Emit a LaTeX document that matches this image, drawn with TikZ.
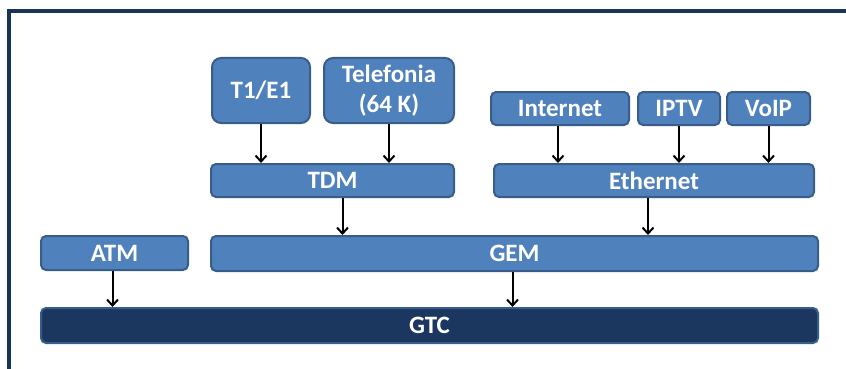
\documentclass[tikz,border=0pt]{standalone}
\usepackage{fontspec}
\setmainfont{Carlito}
\usetikzlibrary{arrows.meta,calc}
\definecolor{boxfill}{HTML}{4F81BD}
\definecolor{boxedge}{HTML}{385D8A}
\definecolor{navy}{HTML}{1B3760}
\definecolor{frameline}{HTML}{1B3456}
\tikzset{
  box/.style={draw=boxedge, line width=2pt, fill=boxfill, rounded corners=5pt,
    text=white, font=\fontsize{25}{30}\selectfont\bfseries, inner sep=0pt,
    anchor=north west, align=center},
  bigbox/.style={box, rounded corners=9pt},
  darkbox/.style={box, fill=navy, draw=boxedge},
  arr/.style={-{Straight Barb[length=6pt,width=11pt,line width=2pt]}, line width=2pt, black},
}
\begin{document}
\begin{tikzpicture}[x=1pt,y=-1pt]
\useasboundingbox (0,0) rectangle (846,369);
% frame lines
\draw[frameline, line width=3.2pt] (9,369) -- (9,11) -- (846,11);

% top-level services
\node[bigbox, minimum width=98pt, minimum height=65pt] (t1) at (211,57) {T1/E1};
\node[bigbox, minimum width=130pt, minimum height=65pt] (tel) at (323,57) {Telefonia\\(64 K)};
\node[box, minimum width=138pt, minimum height=33pt] (inet) at (490,91) {Internet};
\node[box, minimum width=82pt, minimum height=33pt] (iptv) at (637,91) {IPTV};
\node[box, minimum width=83pt, minimum height=33pt] (voip) at (726,91) {VoIP};

% adaptation layers
\node[box, minimum width=243pt, minimum height=33pt] (tdm) at (210,163) {TDM};
\node[box, minimum width=320pt, minimum height=33pt] (eth) at (493,163) {Ethernet};

% encapsulation
\node[box, minimum width=147pt, minimum height=34pt] (atm) at (40,235) {ATM};
\node[box, minimum width=607pt, minimum height=35pt] (gem) at (210,235) {GEM};

% transmission convergence
\node[darkbox, minimum width=777pt, minimum height=35pt] (gtc) at (40,307) {GTC};

% connectors
\draw[arr] (t1.south) -- (t1.south |- tdm.north);
\draw[arr] (tel.south) -- (tel.south |- tdm.north);
\draw[arr] ([xshift=-2pt]inet.south) -- ([xshift=-2pt]inet.south |- eth.north);
\draw[arr] (iptv.south) -- (iptv.south |- eth.north);
\draw[arr] (voip.south) -- (voip.south |- eth.north);
\draw[arr] ([xshift=10pt]tdm.south) -- ([xshift=10pt]tdm.south |- gem.north);
\draw[arr] ([xshift=-6pt]eth.south) -- ([xshift=-6pt]eth.south |- gem.north);
\draw[arr] ([xshift=-2pt]atm.south) -- ([xshift=-2pt]atm.south |- gtc.north);
\draw[arr] ([xshift=-2pt]gem.south) -- ([xshift=-2pt]gem.south |- gtc.north);
\end{tikzpicture}
\end{document}
